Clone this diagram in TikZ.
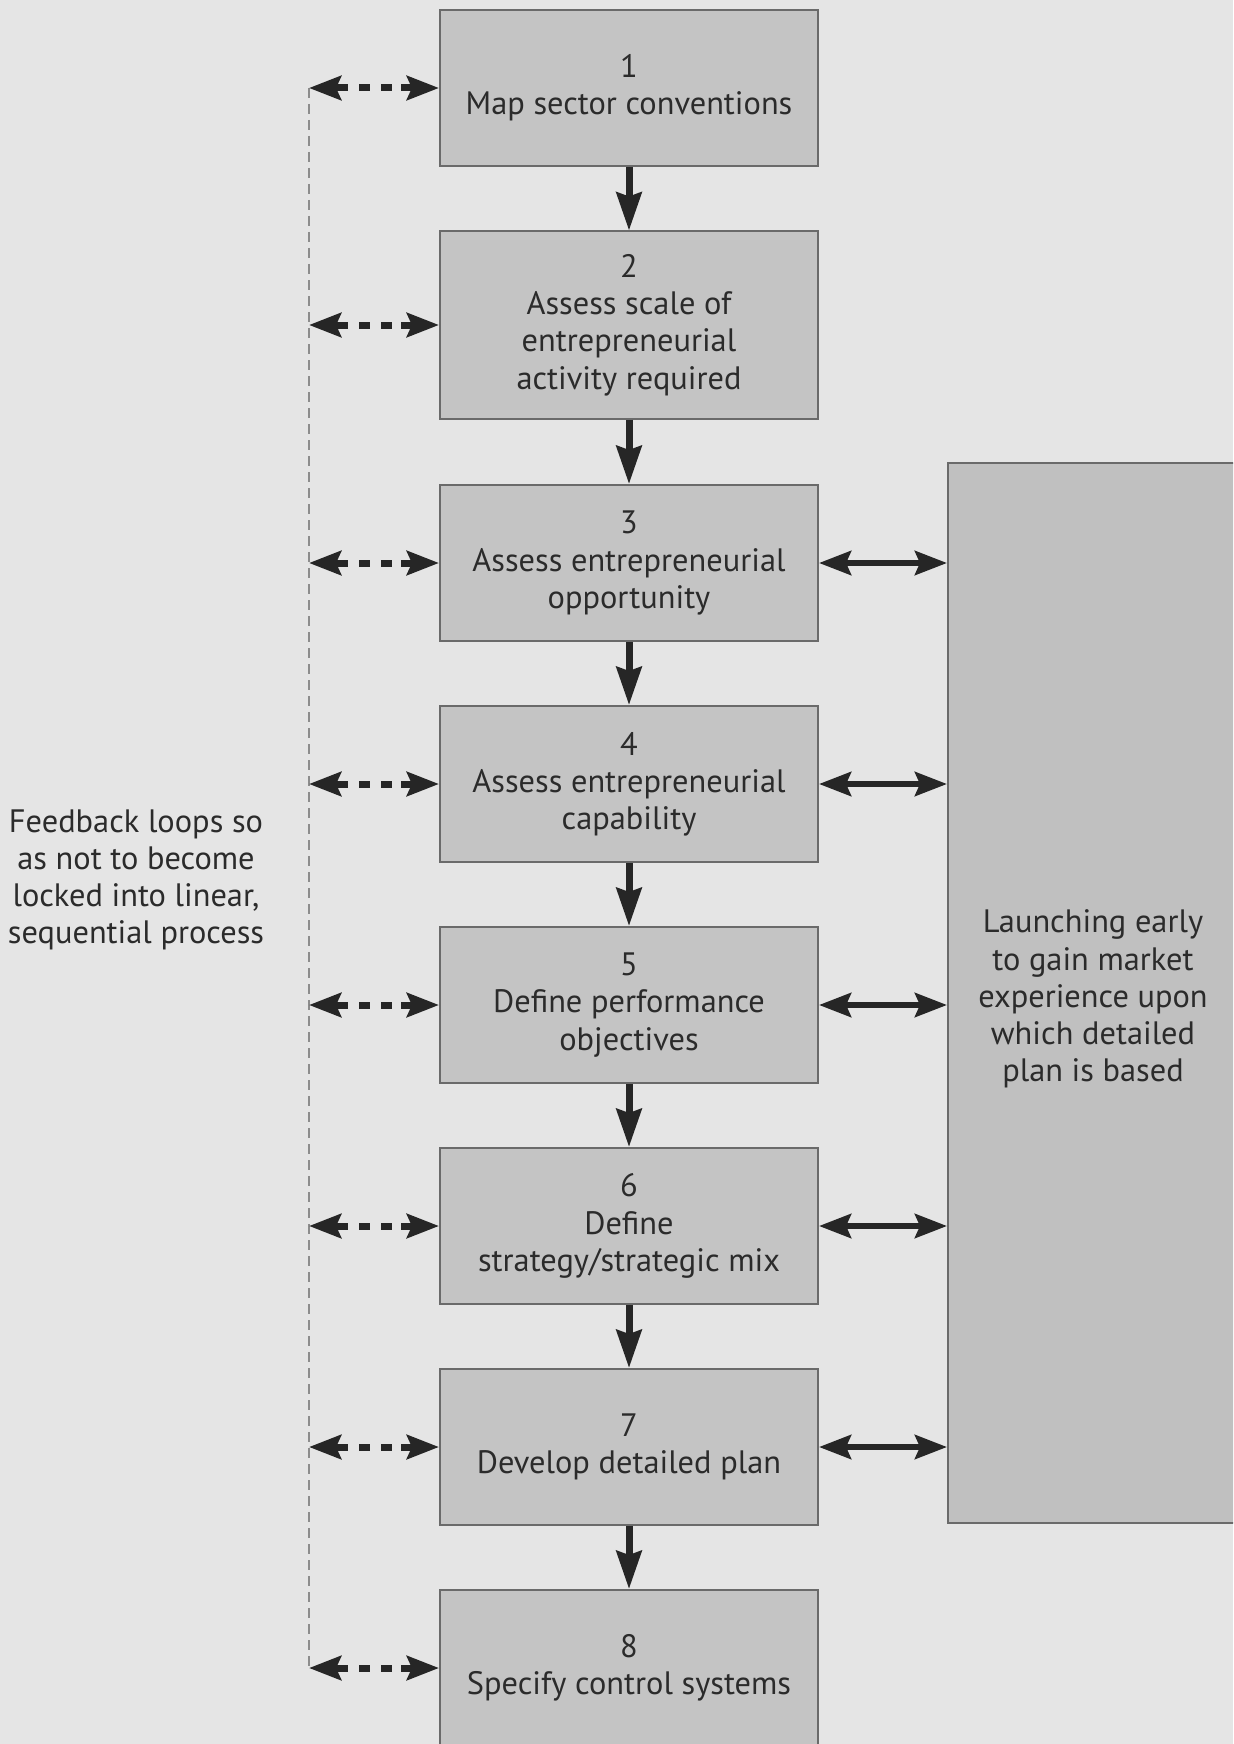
\documentclass[tikz,border=0pt]{standalone}
\usepackage{fontspec}
\setmainfont{PT Sans}
\usetikzlibrary{arrows.meta}
\definecolor{bgcol}{HTML}{E5E5E5}
\definecolor{boxcol}{HTML}{C4C4C4}
\definecolor{sidecol}{HTML}{C0C0C0}
\definecolor{edgecol}{HTML}{6A6A6A}
\definecolor{inkcol}{HTML}{262626}
\definecolor{txtcol}{HTML}{2B2B2B}
\definecolor{loopcol}{HTML}{8C8C8C}
\tikzset{
  stepbox/.style={draw=edgecol, line width=1pt, fill=boxcol, minimum width=189pt,
    minimum height=78pt, align=center, inner sep=0pt, text=txtcol,
    font=\fontsize{16.2}{18.6}\selectfont},
  downarrow/.style={draw=inkcol, line width=3.5pt,
    -{Stealth[length=19pt, width=12.5pt, inset=2pt]}},
  sidetip/.tip={Stealth[length=16pt, width=12pt, inset=2.5pt]},
  sidearrow/.style={draw=inkcol, line width=3pt, sidetip-sidetip},
  loopbranch/.style={draw=inkcol, line width=3.5pt,
    dash pattern=on 7pt off 5.5pt on 5.5pt off 5.5pt on 5.5pt off 4.5pt on 20pt,
    sidetip-sidetip},
  loopline/.style={draw=loopcol, line width=1pt, dash pattern=on 5pt off 3pt},
  note/.style={align=center, text=txtcol, font=\fontsize{16.2}{18.6}\selectfont}
}
\begin{document}
\begin{tikzpicture}[x=0.5pt, y=-0.5pt]
  \useasboundingbox (0,0) rectangle (1233,1744);
  \clip (0,0) rectangle (1233,1744);
  \fill[bgcol] (0,0) rectangle (1233,1744);

  % main sequence of steps
  \node[stepbox] (b1) at (629,88) {1\\Map sector conventions};
  \node[stepbox, minimum height=93.5pt] (b2) at (629,325) {2\\Assess scale of\\entrepreneurial\\activity required};
  \node[stepbox] (b3) at (629,563) {3\\Assess entrepreneurial\\opportunity};
  \node[stepbox] (b4) at (629,784) {4\\Assess entrepreneurial\\capability};
  \node[stepbox] (b5) at (629,1005) {5\\Define performance\\objectives};
  \node[stepbox] (b6) at (629,1226) {6\\Define\\strategy/strategic mix};
  \node[stepbox] (b7) at (629,1447) {7\\Develop detailed plan};
  \node[stepbox] (b8) at (629,1668) {8\\Specify control systems};

  % side panel on the right
  \node[draw=edgecol, line width=1pt, fill=sidecol, minimum width=150pt,
        minimum height=530pt, inner sep=0pt] (side) at (1098,993) {};
  \node[note] (sidetext) at (1093,999) {Launching early\\to gain market\\experience upon\\which detailed\\plan is based};

  % note on the feedback loops
  \node[note] (loopnote) at (136,880) {Feedback loops so\\as not to become\\locked into linear,\\sequential process};

  % forward flow
  \foreach \a/\b in {b1/b2,b2/b3,b3/b4,b4/b5,b5/b6,b6/b7,b7/b8}
    \draw[downarrow] (\a.south) -- (\b.north);

  % links to the side panel
  \foreach \a in {b3,b4,b5,b6,b7}
    \draw[sidearrow] (\a.east) -- (\a.east -| side.west);

  % feedback loop line and branches
  \foreach \a in {1,...,8}
    \coordinate (f\a) at (b\a.west -| 309,0);
  \draw[loopline] (f1) -- (f8);
  \foreach \a in {1,...,8}
    \draw[loopbranch] (f\a) -- (b\a.west);
\end{tikzpicture}
\end{document}
